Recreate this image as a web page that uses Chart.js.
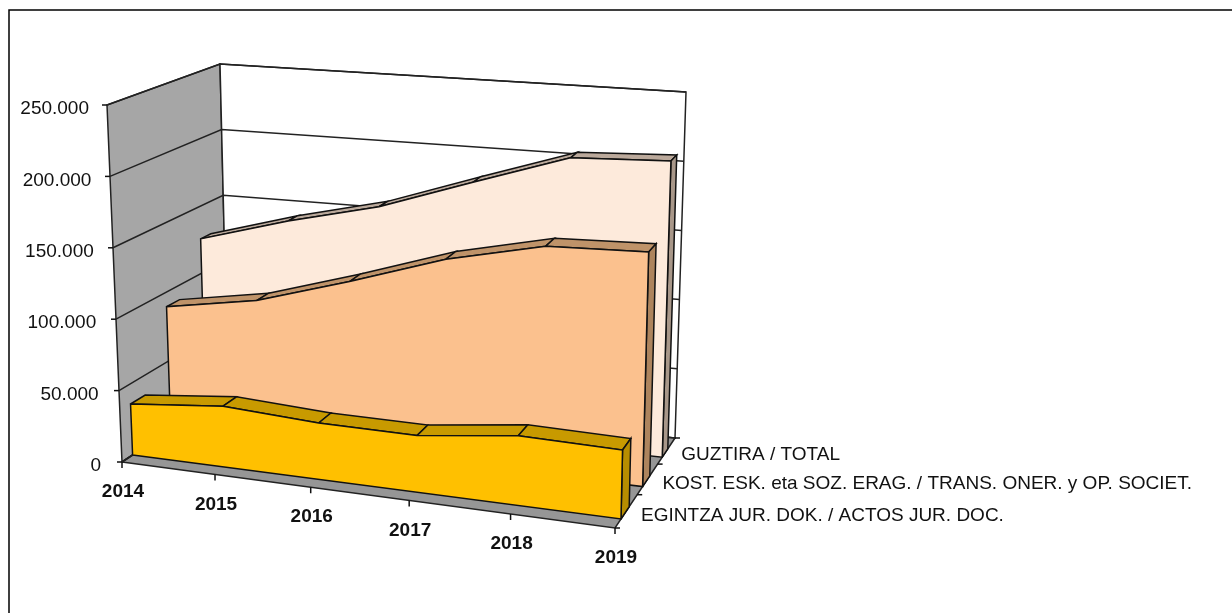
<!DOCTYPE html>
<html>
<head>
<meta charset="utf-8">
<script src="https://cdn.jsdelivr.net/npm/chart.js@4"></script>
<style>
    body { margin: 0; background: #fff; }
    canvas { display: block; }
</style>
</head>
<body>
<canvas id="chart" width="1232" height="613"></canvas>
<script>
const years = ["2014", "2015", "2016", "2017", "2018", "2019"];
const actos = [36000, 42500, 39000, 38700, 47000, 46000];
const transmisiones = [89500, 100700, 121000, 143400, 159000, 161400];
const total = [125700, 144700, 160700, 184000, 206900, 209900];
const valueTicks = [0, 50000, 100000, 150000, 200000, 250000];
const valueLabels = ["0", "50.000", "100.000", "150.000", "200.000", "250.000"];
const seriesLabels = [
    "EGINTZA JUR. DOK. / ACTOS JUR. DOC.",
    "KOST. ESK. eta SOZ. ERAG. / TRANS. ONER. y OP. SOCIET.",
    "GUZTIRA / TOTAL"
];

// corners of the 3D box on screen: [year, value, depth]
const box = {
    p000: [122, 462], p010: [107, 105], p001: [228, 392], p011: [220, 64],
    p100: [615, 528], p110: [623, 150], p101: [675, 438], p111: [686, 92]
};
const maxValue = 250000;
const depthTicks = [0, 0.37, 0.71, 1];

function lerp(a, b, t) {
    return [a[0] + (b[0] - a[0]) * t, a[1] + (b[1] - a[1]) * t];
}

function project(yearIndex, value, depth) {
    const u = yearIndex / (years.length - 1);
    const g = u / (1 + 0.075 * (1 - u)); // the right side is closer to the viewer
    const v = value / maxValue;
    const left = lerp(lerp(box.p000, box.p010, v), lerp(box.p001, box.p011, v), depth);
    const right = lerp(lerp(box.p100, box.p110, v), lerp(box.p101, box.p111, v), depth);
    const p = lerp(left, right, g);
    return { x: p[0], y: p[1] };
}

const datasets = [];

function addShape(points, fill, stroke, width) {
    datasets.push({
        data: points,
        shapeFill: fill,
        borderColor: stroke,
        borderWidth: width === undefined ? 1.5 : width,
        showLine: true,
        pointRadius: 0,
        tension: 0
    });
}

function addFace(points, fill, stroke, width) {
    addShape(points.concat([points[0]]), fill, stroke, width);
}

const last = years.length - 1;

// walls and floor
addFace([project(0, 0, 0), project(0, maxValue, 0), project(0, maxValue, 1), project(0, 0, 1)], "#a6a6a6", "#222222");
addFace([project(0, 0, 1), project(0, maxValue, 1), project(last, maxValue, 1), project(last, 0, 1)], "#ffffff", "#222222");
addFace([project(0, 0, 0), project(0, 0, 1), project(last, 0, 1), project(last, 0, 0)], "#969696", "#222222");

// gridlines on both walls
valueTicks.forEach((tick) => {
    addShape([project(0, tick, 0), project(0, tick, 1), project(last, tick, 1)], null, "#222222");
});

function addSeries(values, front, back, colors) {
    for (let i = 0; i < last; i++) {
        addFace([
            project(i, values[i], front), project(i, values[i], back),
            project(i + 1, values[i + 1], back), project(i + 1, values[i + 1], front)
        ], colors.top, "#111111");
    }
    addFace([
        project(last, 0, front), project(last, values[last], front),
        project(last, values[last], back), project(last, 0, back)
    ], colors.side, "#111111");
    const outline = [project(0, 0, front)];
    values.forEach((value, i) => outline.push(project(i, value, front)));
    outline.push(project(last, 0, front));
    addFace(outline, colors.front, "#111111");
}

addSeries(total, 0.787, 0.88, { front: "#fdeadb", top: "#bba99b", side: "#a89789" });
addSeries(transmisiones, 0.46, 0.58, { front: "#fbc18e", top: "#bf9369", side: "#ad845d" });
addSeries(actos, 0.10, 0.237, { front: "#ffc000", top: "#c89a00", side: "#b78d00" });

// first dataset has to be painted first
datasets.forEach((dataset, i) => {
    dataset.order = datasets.length - i;
});

const shapeFillPlugin = {
    id: "shapeFill",
    beforeDatasetDraw(chart, args) {
        const dataset = chart.data.datasets[args.index];
        if (!dataset.shapeFill) return;
        const ctx = chart.ctx;
        const points = args.meta.data;
        ctx.save();
        ctx.beginPath();
        points.forEach((point, i) => {
            if (i === 0) ctx.moveTo(point.x, point.y);
            else ctx.lineTo(point.x, point.y);
        });
        ctx.closePath();
        ctx.fillStyle = dataset.shapeFill;
        ctx.fill();
        ctx.restore();
    }
};

const axisPlugin = {
    id: "axisText",
    beforeDraw(chart) {
        // the frame only shows on the top and left, the rest is cropped away
        const ctx = chart.ctx;
        ctx.save();
        ctx.strokeStyle = "#000000";
        ctx.lineWidth = 1.5;
        ctx.beginPath();
        ctx.moveTo(9, 613);
        ctx.lineTo(9, 10);
        ctx.lineTo(1232, 10);
        ctx.stroke();
        ctx.restore();
    },
    afterDraw(chart) {
        const ctx = chart.ctx;
        const sx = chart.scales.x;
        const sy = chart.scales.y;
        const at = (p) => ({ x: sx.getPixelForValue(p.x), y: sy.getPixelForValue(p.y) });

        ctx.save();
        ctx.strokeStyle = "#111111";
        ctx.lineWidth = 1.5;
        ctx.fillStyle = "#111111";
        ctx.textBaseline = "middle";

        // value axis
        ctx.font = "19px 'Liberation Sans'";
        ctx.textAlign = "right";
        valueTicks.forEach((tick, i) => {
            const p = at(project(0, tick, 0));
            ctx.beginPath();
            ctx.moveTo(p.x - 5, p.y);
            ctx.lineTo(p.x, p.y);
            ctx.stroke();
            ctx.fillText(valueLabels[i], p.x - 21 + 3 * tick / maxValue, p.y + 4);
        });

        // year axis
        ctx.font = "bold 19px 'Liberation Sans'";
        ctx.textAlign = "center";
        years.forEach((year, i) => {
            const p = at(project(i, 0, 0));
            ctx.beginPath();
            ctx.moveTo(p.x, p.y);
            ctx.lineTo(p.x, p.y + 6);
            ctx.stroke();
            ctx.fillText(year, p.x + 1, p.y + 30);
        });

        // depth axis
        ctx.font = "19px 'Liberation Sans'";
        ctx.textAlign = "left";
        depthTicks.forEach((depth) => {
            const p = at(project(last, 0, depth));
            ctx.beginPath();
            ctx.moveTo(p.x, p.y);
            ctx.lineTo(p.x + 5, p.y);
            ctx.stroke();
        });
        seriesLabels.forEach((label, i) => {
            const p = at(project(last, 0, (depthTicks[i] + depthTicks[i + 1]) / 2));
            ctx.fillText(label, p.x + 15, p.y + 4);
        });
        ctx.restore();
    }
};

new Chart(document.getElementById("chart"), {
    type: "scatter",
    data: { datasets: datasets },
    plugins: [shapeFillPlugin, axisPlugin],
    options: {
        responsive: false,
        animation: false,
        layout: { padding: 0 },
        plugins: { legend: { display: false }, tooltip: { enabled: false } },
        scales: {
            x: { type: "linear", min: 0, max: 1232, display: false },
            y: { type: "linear", min: 0, max: 613, reverse: true, display: false }
        }
    }
});
</script>
</body>
</html>
